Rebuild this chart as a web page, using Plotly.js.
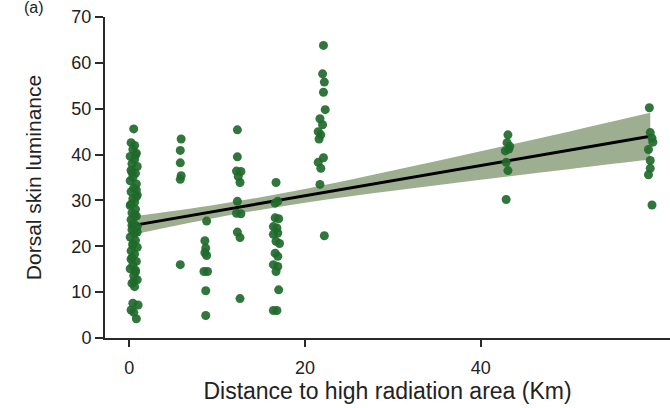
<!DOCTYPE html>
<html>
<head>
<meta charset="utf-8">
<script src="https://cdn.plot.ly/plotly-3.0.1.min.js"></script>
<style>html,body{margin:0;padding:0;background:#fff;}#chart{width:670px;height:408px;}</style>
</head>
<body>
<div id="chart"></div>
<script>
// Observed points: distance (Km) and dorsal skin luminance
const distance = [
  0.5,0.2,0.6,0.4,0.8,0.1,0.6,0.3,0.9,0.2,0.7,0.4,0.1,0.8,0.5,0.2,0.9,0.4,0.6,0.1,0.7,0.3,0.8,0.2,0.5,0.9,0.3,0.6,0.1,0.7,0.4,0.9,0.2,0.6,0.3,0.8,0.4,0.1,0.7,0.5,0.9,0.3,0.6,0.4,1.0,0.2,0.5,0.8,
  0.7,0.3,0.8,0.2,0.6,0.9,0.4,0.2,0.7,0.5,0.8,0.3,
  5.9,5.8,5.8,5.9,5.8,5.8,
  8.8,8.6,8.7,8.6,8.8,8.5,8.9,8.7,8.7,
  12.3,12.3,12.2,12.7,12.4,12.6,12.3,12.2,12.7,12.3,12.6,12.6,
  16.7,16.6,16.9,16.6,17.0,16.4,16.8,16.9,16.4,16.7,17.1,16.6,16.9,16.4,16.9,16.7,17.0,16.4,16.8,
  22.1,22.0,22.2,22.1,22.3,21.7,22.0,21.5,21.8,21.6,22.1,21.5,21.8,21.7,22.2,
  43.1,43.0,43.3,42.8,43.2,42.9,43.1,42.9,
  59.2,59.3,59.5,59.6,59.1,59.3,59.3,59.1,59.5
];
const luminance = [
  45.6,42.6,42.0,41.1,40.3,39.6,38.9,38.0,37.4,36.6,35.9,35.0,34.3,33.6,32.7,31.9,31.2,30.4,29.6,28.9,28.1,27.3,26.6,25.8,25.0,24.3,23.6,22.8,22.0,21.3,20.6,19.8,19.0,18.3,17.5,16.7,15.9,15.1,14.4,13.6,12.7,11.9,11.2,7.6,7.2,6.1,5.6,4.2,
  39.9,36.1,32.3,29.2,26.9,23.1,20.2,17.2,14.8,12.4,30.8,24.6,
  43.4,40.9,38.2,35.4,34.6,16.0,
  25.5,21.2,19.6,18.6,18.0,14.5,14.5,10.3,4.9,
  45.4,39.5,36.4,36.3,35.2,33.9,29.8,27.2,27.1,23.1,21.9,8.6,
  33.9,29.4,29.8,26.2,26.0,24.3,24.0,22.9,22.6,21.1,20.6,18.5,17.8,16.0,15.6,14.5,10.5,6.0,6.0,
  63.8,57.6,55.8,53.6,49.8,47.8,46.5,45.0,44.3,43.4,39.3,38.3,37.0,33.5,22.3,
  44.3,42.6,41.8,40.8,41.2,38.3,36.5,30.2,
  50.2,44.8,43.6,42.7,41.1,38.7,37.0,35.6,29.0
];
// Fitted regression line and its confidence band
const fitX = [0, 10, 20, 30, 40, 50, 59.3];
const fitY = [24.4, 27.7, 31.0, 34.3, 37.6, 40.9, 44.0];
const bandUpper = [26.4, 29.1, 32.5, 36.5, 40.7, 45.0, 49.1];
const bandLower = [22.4, 26.3, 29.5, 32.1, 34.5, 36.8, 38.9];
const xTicks = [0, 20, 40];
const yTicks = [0, 10, 20, 30, 40, 50, 60, 70];

const FONT = 'Liberation Sans, Arial, Helvetica, sans-serif';
const AX = '#2a2a2a';

const traces = [
  {x: fitX, y: bandLower, mode: 'lines', line: {width: 0, shape: 'spline'}, hoverinfo: 'skip', showlegend: false},
  {x: fitX, y: bandUpper, mode: 'lines', line: {width: 0, shape: 'spline'}, fill: 'tonexty', fillcolor: '#9eae91', hoverinfo: 'skip', showlegend: false},
  {x: fitX, y: fitY, mode: 'lines', line: {color: '#000000', width: 3}, showlegend: false},
  {x: distance, y: luminance, mode: 'markers', marker: {color: '#1f6a2b', size: 9, opacity: 0.92, line: {width: 0}}, showlegend: false}
];

const layout = {
  width: 670, height: 408,
  margin: {l: 105, r: 0, t: 17, b: 70},
  paper_bgcolor: '#ffffff', plot_bgcolor: '#ffffff',
  font: {family: FONT, color: '#222222'},
  showlegend: false,
  xaxis: {
    range: [-2.77, 61.55], tickvals: xTicks, ticktext: xTicks.map(String),
    showgrid: false, zeroline: false, showline: true, linecolor: AX, linewidth: 2,
    ticks: 'outside', ticklen: 7, tickwidth: 2, tickcolor: AX,
    tickfont: {size: 18, family: FONT, color: '#222'}, ticklabelstandoff: 5,
    title: {text: 'Distance to high radiation area (Km)', font: {size: 23, family: FONT, color: '#222'}, standoff: 6}
  },
  yaxis: {
    range: [0, 70], tickvals: yTicks, ticktext: yTicks.map(String),
    showgrid: false, zeroline: false, showline: true, linecolor: AX, linewidth: 2,
    ticks: 'outside', ticklen: 8, tickwidth: 2, tickcolor: AX,
    tickfont: {size: 18, family: FONT, color: '#222'},
    title: {text: 'Dorsal skin luminance', font: {size: 21, family: FONT, color: '#222'}, standoff: 24}
  },
  annotations: [
    {text: '(a)', xref: 'paper', yref: 'paper', x: -0.147, y: 1.03, xanchor: 'left', yanchor: 'middle', showarrow: false, font: {size: 16, family: FONT, color: '#222'}}
  ]
};

Plotly.newPlot('chart', traces, layout, {displayModeBar: false, staticPlot: true});
</script>
</body>
</html>
